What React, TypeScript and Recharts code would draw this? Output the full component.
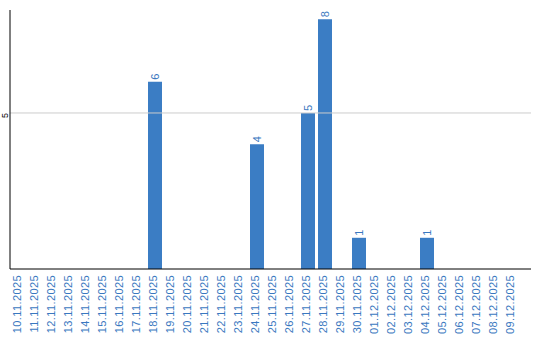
import { Bar, BarChart, LabelList, ReferenceLine, XAxis, YAxis } from 'recharts'

const dates = [
  '10.11.2025', '11.11.2025', '12.11.2025', '13.11.2025', '14.11.2025',
  '15.11.2025', '16.11.2025', '17.11.2025', '18.11.2025', '19.11.2025',
  '20.11.2025', '21.11.2025', '22.11.2025', '23.11.2025', '24.11.2025',
  '25.11.2025', '26.11.2025', '27.11.2025', '28.11.2025', '29.11.2025',
  '30.11.2025', '01.12.2025', '02.12.2025', '03.12.2025', '04.12.2025',
  '05.12.2025', '06.12.2025', '07.12.2025', '08.12.2025', '09.12.2025',
]
const counts = [0, 0, 0, 0, 0, 0, 0, 0, 6, 0, 0, 0, 0, 0, 4, 0, 0, 5, 8, 0, 1, 0, 0, 0, 1, 0, 0, 0, 0, 0]
const yTicks = [5]

const BLUE = '#3b7dc4'
const LABEL_BLUE = '#3a78c0'
const FONT = '"Liberation Sans", Arial, sans-serif'

const data = dates.map((d, i) => ({ date: d, count: counts[i] }))

// rotated date labels under the axis, anchored just below the axis line
function DateTick({ x, payload }: any) {
  return (
    <text
      x={0}
      y={0}
      transform={`translate(${x + 2},275) rotate(-90)`}
      textAnchor="end"
      fill={LABEL_BLUE}
      fontSize={11}
      letterSpacing={0.4}
      fontFamily={FONT}
    >
      {payload.value}
    </text>
  )
}

function ValueTick({ y, payload }: any) {
  return (
    <text
      x={0}
      y={0}
      transform={`translate(7.5,${y + 2.5}) rotate(-90)`}
      textAnchor="middle"
      fill="#000"
      fontSize={9}
      fontFamily={FONT}
    >
      {payload.value}
    </text>
  )
}

function BarValue(props: any) {
  const { x, y, width, value } = props
  if (!value) return null
  return (
    <text
      x={0}
      y={0}
      transform={`translate(${x + width / 2 + 4},${y - 2}) rotate(-90)`}
      textAnchor="start"
      fill={LABEL_BLUE}
      fontSize={11}
      fontFamily={FONT}
    >
      {value}
    </text>
  )
}

export default function App() {
  return (
    <div style={{ position: 'absolute', left: 0, top: 0, width: 540, height: 340, background: '#fff' }}>
      <BarChart
        width={540}
        height={340}
        data={data}
        margin={{ top: 10, right: 9, bottom: 0, left: 0 }}
        barSize={14}
      >
        <XAxis
          dataKey="date"
          interval={0}
          height={71}
          padding={{ left: 0, right: 11 }}
          axisLine={{ stroke: '#000' }}
          tickLine={false}
          tick={<DateTick />}
        />
        <YAxis
          width={10}
          domain={[0, 8.3]}
          ticks={yTicks}
          axisLine={{ stroke: '#000' }}
          tickLine={false}
          tick={<ValueTick />}
        />
        <ReferenceLine y={5} stroke="#cccccc" />
        <Bar dataKey="count" fill={BLUE} isAnimationActive={false}>
          <LabelList dataKey="count" content={<BarValue />} />
        </Bar>
      </BarChart>
    </div>
  )
}
